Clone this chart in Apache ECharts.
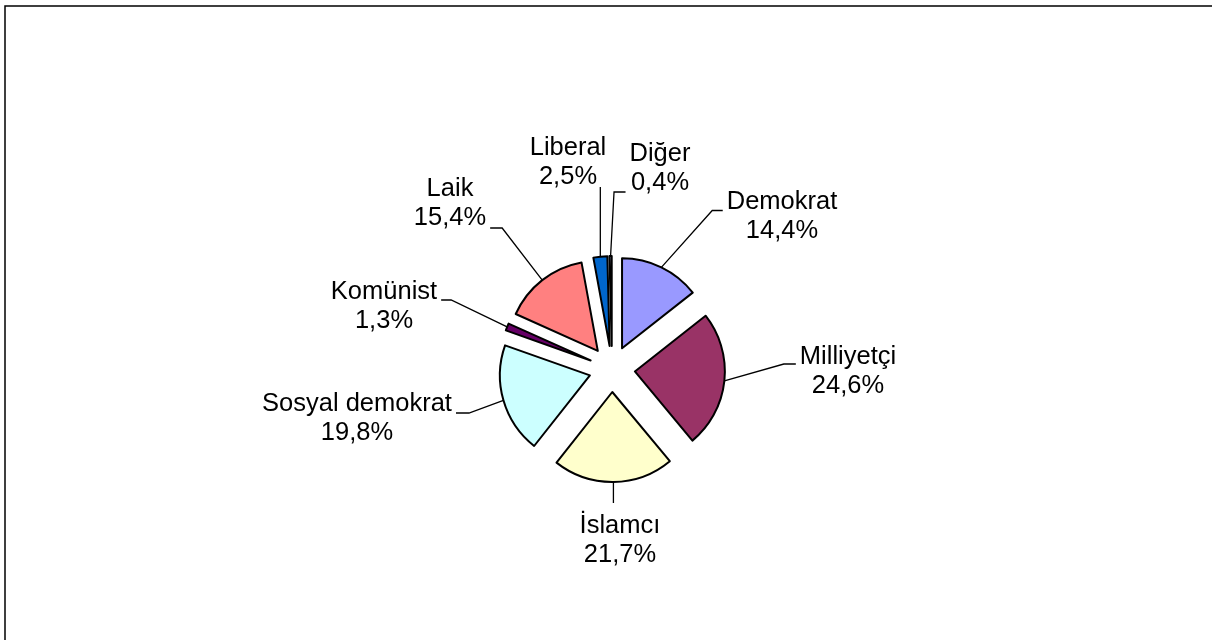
<!DOCTYPE html>
<html>
<head>
<meta charset="utf-8">
<script src="https://cdn.jsdelivr.net/npm/echarts@6/dist/echarts.min.js"></script>
<style>
  html, body { margin: 0; padding: 0; background: #fff; }
  #chart { width: 1212px; height: 640px; }
</style>
</head>
<body>
<div id="chart"></div>
<script>
// Party preferences, share of respondents (%)
const categories = ['Demokrat', 'Milliyetçi', 'İslamcı', 'Sosyal demokrat', 'Komünist', 'Laik', 'Liberal', 'Diğer'];
const shares = [14.4, 24.6, 21.7, 19.8, 1.3, 15.4, 2.5, 0.4];
const sliceColors = ['#9999FF', '#993366', '#FFFFCC', '#CCFFFF', '#660066', '#FF8080', '#0066CC', '#CCCCFF'];

// Callout placement: centre of each text block, the side where its leader meets it,
// vertical shift of that meeting point and length of the short horizontal stub.
const callouts = [
  { at: [782, 216], side: 'left',  lift: -5.5, stub: 10.5 },
  { at: [848, 371], side: 'left',  lift: -7,   stub: 12 },
  { at: [620, 540], side: 'vertical', lift: -37 },
  { at: [357, 418], side: 'right', lift: -5,   stub: 13 },
  { at: [384, 306], side: 'right', lift: -6,   stub: 10 },
  { at: [450, 203], side: 'right', lift: 25,   stub: 12 },
  { at: [568, 162], side: 'vertical', lift: 25 },
  { at: [660, 168], side: 'left',  lift: 24,   stub: 11.5 }
];

const CENTER = [612, 369];
const RADIUS = 90;
const EXPLODE = 23;
const GAP = 4;

const chart = echarts.init(document.getElementById('chart'), null, { renderer: 'canvas' });

function pct(v) {
  return v.toFixed(1).replace('.', ',') + '%';
}

function placeCallout(params) {
  const i = params.dataIndex;
  const c = callouts[i];
  const lay = chart.getModel().getSeriesByIndex(1).getData().getItemLayout(i);
  const mid = (lay.startAngle + lay.endAngle) / 2;
  // rim point of the slice, moved out together with the pulled-out slice
  const p0 = params.labelLinePoints[0];
  const start = [p0[0] + Math.cos(mid) * EXPLODE, p0[1] + Math.sin(mid) * EXPLODE];
  const w = params.labelRect.width;
  const ty = c.at[1] + c.lift;
  let pts;
  if (c.side === 'vertical') {
    pts = [start, [start[0], ty]];
  } else {
    const edge = c.side === 'left' ? c.at[0] - w / 2 - GAP : c.at[0] + w / 2 + GAP;
    const bend = c.side === 'left' ? edge - c.stub : edge + c.stub;
    pts = [start, [bend, ty], [edge, ty]];
  }
  return {
    x: c.at[0],
    y: c.at[1],
    align: 'center',
    verticalAlign: 'middle',
    labelLinePoints: pts
  };
}

const pieGeometry = {
  type: 'pie',
  center: CENTER,
  radius: RADIUS,
  startAngle: 90,
  clockwise: true,
  avoidLabelOverlap: false,
  emphasis: { disabled: true }
};

chart.setOption({
  animation: false,
  backgroundColor: '#fff',
  graphic: [{
    type: 'rect',
    silent: true,
    shape: { x: 5, y: 6, width: 1240, height: 700 },
    style: { fill: 'none', stroke: '#000', lineWidth: 1.5 }
  }],
  series: [
    // exploded slices
    Object.assign({}, pieGeometry, {
      selectedMode: 'multiple',
      selectedOffset: EXPLODE,
      itemStyle: { borderColor: '#000', borderWidth: 2 },
      select: { itemStyle: { borderColor: '#000', borderWidth: 2 } },
      label: { show: false },
      labelLine: { show: false },
      data: categories.map(function (name, i) {
        return { name: name, value: shares[i], selected: true, itemStyle: { color: sliceColors[i] } };
      })
    }),
    // category / percentage callouts with leader lines (slices left unpainted)
    Object.assign({}, pieGeometry, {
      silent: true,
      selectedMode: false,
      z: 3,
      itemStyle: { color: 'rgba(0,0,0,0)', borderWidth: 0 },
      label: {
        show: true,
        position: 'outside',
        formatter: function (p) { return p.name + '\n' + pct(p.value); },
        fontFamily: '"Liberation Sans", Arial, sans-serif',
        fontSize: 25.5,
        lineHeight: 29,
        color: '#000'
      },
      labelLine: {
        show: true,
        length: 20,
        length2: 10,
        lineStyle: { color: '#000', width: 1.3 }
      },
      labelLayout: placeCallout,
      data: categories.map(function (name, i) {
        return { name: name, value: shares[i] };
      })
    })
  ]
});
</script>
</body>
</html>
